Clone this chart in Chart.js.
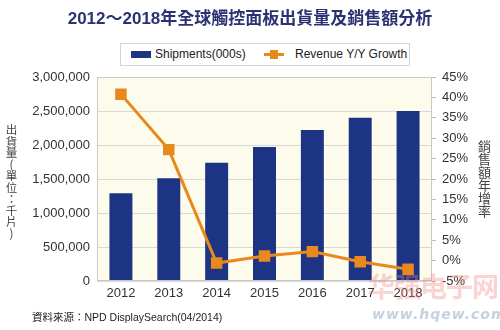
<!DOCTYPE html>
<html>
<head>
<meta charset="utf-8">
<script src="https://cdn.jsdelivr.net/npm/chart.js@4.4.1/dist/chart.umd.min.js"></script>
<style>
    html, body { margin: 0; padding: 0; background: #fff; }
    #wrap { position: relative; width: 500px; height: 330px; overflow: hidden; font-family: "Liberation Sans", Arial, "Noto Sans CJK TC", sans-serif; }
    #chart { position: absolute; left: 0; top: 0; }
    .title { position: absolute; left: 0; top: 4px; width: 500px; text-align: center; font-size: 17px; font-weight: bold; color: #2b3273; font-family: "Liberation Sans", "Noto Sans CJK TC", sans-serif; }
    .legend { position: absolute; left: 120px; top: 43px; width: 288px; height: 21px; border: 1px solid #d4d4d4; background: #fff; font-size: 12px; color: #222; white-space: nowrap; }
    .legend span { position: absolute; top: 3px; }
    .sw-bar { position: absolute; left: 10px; top: 7px; width: 20px; height: 7px; background: #1d3383; }
    .sw-line { position: absolute; left: 143px; top: 9px; width: 20px; height: 3px; background: #e8891e; }
    .sw-line i { position: absolute; left: 6px; top: -3px; width: 8px; height: 9px; background: #e8891e; }
    .vt { position: absolute; writing-mode: vertical-rl; text-orientation: upright; color: #444; font-family: "Noto Sans CJK TC", sans-serif; line-height: 1; white-space: nowrap; }
    .source { position: absolute; left: 32px; top: 309px; font-size: 10.5px; color: #222; font-family: "Liberation Sans", "Noto Sans CJK TC", sans-serif; white-space: nowrap; }
    .wm { position: absolute; left: 368px; top: 266px; font-size: 27px; font-weight: bold; color: rgba(240, 130, 130, 0.35); font-family: "Noto Sans CJK SC", sans-serif; letter-spacing: -1px; white-space: nowrap; }
    .wm2 { position: absolute; left: 372px; top: 306px; font-size: 14px; font-weight: bold; font-style: italic; color: rgba(150, 170, 200, 0.55); letter-spacing: 1px; font-family: "DejaVu Sans", sans-serif; white-space: nowrap; }
</style>
</head>
<body>
<div id="wrap">
    <canvas id="chart" width="500" height="330"></canvas>
    <div class="title">2012～2018年全球觸控面板出貨量及銷售額分析</div>
    <div class="legend">
        <div class="sw-bar"></div><span style="left:34px">Shipments(000s)</span>
        <div class="sw-line"><i></i></div><span style="left:174px">Revenue Y/Y Growth</span>
    </div>
    <div class="vt" style="left:5px; top:124px; font-size:11.5px;">出貨量(單位：千片)</div>
    <div class="vt" style="left:478px; top:140px; font-size:13px;">銷售額年增率</div>
    <div class="source">資料來源：NPD DisplaySearch(04/2014)</div>
    <div class="wm">华强电子网</div>
    <div class="wm2">www.hqew.com</div>
</div>
<script>
// Shipments (thousand panels) and revenue growth, 2012-2018
const years = ['2012', '2013', '2014', '2015', '2016', '2017', '2018'];
const shipments = [1290000, 1510000, 1740000, 1970000, 2220000, 2400000, 2500000];
const revenueGrowth = [40.8, 27.2, -0.6, 1.1, 2.2, -0.3, -2.1];

const leftTicks = [0, 500000, 1000000, 1500000, 2000000, 2500000, 3000000];
const rightTicks = [-5, 0, 5, 10, 15, 20, 25, 30, 35, 40, 45];

const tickFont = { family: '"Liberation Sans", Arial, sans-serif', size: 13 };

// cream plot background + thin frame around the chart area
const plotBackground = {
    id: 'plotBackground',
    beforeDraw: (chart) => {
        const { ctx, chartArea: a } = chart;
        ctx.save();
        ctx.fillStyle = '#fdfbec';
        ctx.fillRect(a.left, a.top, a.right - a.left, a.bottom - a.top);
        ctx.restore();
    },
    afterDatasetsDraw: (chart) => {
        const { ctx, chartArea: a } = chart;
        ctx.save();
        ctx.strokeStyle = '#c9c9c9';
        ctx.lineWidth = 1;
        ctx.strokeRect(a.left + 0.5, a.top + 0.5, a.right - a.left - 1, a.bottom - a.top - 1);
        ctx.restore();
    }
};

// bars shade from lighter navy on the left to darker on the right
const barFill = (c) => {
    const el = c.element;
    if (!el || el.x === undefined || !isFinite(el.width)) return '#1d3383';
    const g = c.chart.ctx.createLinearGradient(el.x - el.width / 2, 0, el.x + el.width / 2, 0);
    g.addColorStop(0, '#213f93');
    g.addColorStop(1, '#1a286c');
    return g;
};

new Chart(document.getElementById('chart'), {
    type: 'bar',
    data: {
        labels: years,
        datasets: [{
            label: 'Shipments(000s)',
            data: shipments,
            backgroundColor: barFill,
            barPercentage: 0.48,
            categoryPercentage: 1,
            yAxisID: 'y',
            order: 1
        }, {
            type: 'line',
            label: 'Revenue Y/Y Growth',
            data: revenueGrowth,
            borderColor: '#e8891e',
            backgroundColor: '#e8891e',
            borderWidth: 3,
            pointStyle: 'rect',
            pointRadius: 6,
            tension: 0,
            yAxisID: 'y1',
            order: 0
        }]
    },
    options: {
        responsive: false,
        animation: false,
        layout: { padding: { top: 77, left: 0, right: 0, bottom: 0 } },
        plugins: {
            legend: { display: false },
            title: { display: false },
            tooltip: { enabled: false }
        },
        scales: {
            x: {
                grid: { display: false, drawTicks: false },
                border: { display: false },
                ticks: { color: '#333', font: tickFont, padding: 5 },
                afterFit: (s) => { s.height = 49; }
            },
            y: {
                position: 'left',
                min: 0,
                max: 3000000,
                afterBuildTicks: (s) => { s.ticks = leftTicks.map(v => ({ value: v })); },
                grid: { color: '#d9d9d9', drawTicks: false },
                border: { display: false },
                ticks: {
                    color: '#333',
                    font: tickFont,
                    padding: 7,
                    callback: (v) => v.toLocaleString('en-US')
                },
                afterFit: (s) => { s.width = 97; }
            },
            y1: {
                position: 'right',
                min: -5,
                max: 45,
                afterBuildTicks: (s) => { s.ticks = rightTicks.map(v => ({ value: v })); },
                grid: { drawOnChartArea: false, color: '#bbb', tickLength: 4 },
                border: { display: false },
                ticks: {
                    color: '#333',
                    font: tickFont,
                    padding: 6,
                    callback: (v) => v + '%'
                },
                afterFit: (s) => { s.width = 68; }
            }
        }
    },
    plugins: [plotBackground]
});
</script>
</body>
</html>
